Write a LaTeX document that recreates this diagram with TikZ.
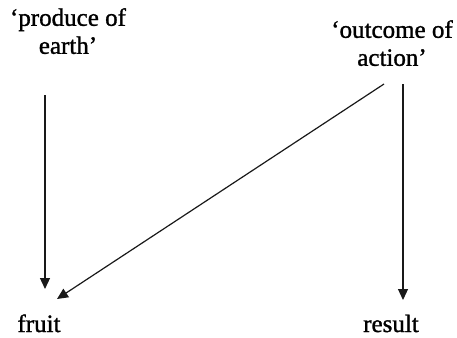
\documentclass[tikz,border=0pt]{standalone}
\usepackage{fontspec}
\setmainfont{Liberation Serif}[FakeBold=1.2]
\usetikzlibrary{arrows.meta}
\begin{document}
\begin{tikzpicture}[x=1pt,y=-1pt,
  lbl/.style={font=\fontsize{25}{28}\selectfont, align=center, inner sep=0pt},
  arr/.style={draw=black!90, line width=1.2pt, -{Triangle[width=10pt,length=11pt]}}]
\useasboundingbox (0,0) rectangle (457,337);
\node[lbl, anchor=north] (prod) at (68,8) {‘produce of\\earth’};
\node[lbl, anchor=north] (outc) at (392,20) {‘outcome of\\action’};
\node[lbl, anchor=base] (fruit) at (39,332) {fruit};
\node[lbl, anchor=base] (result) at (391,332) {result};
\coordinate (p1) at (45,95);
\coordinate (p1e) at (45,289);
\coordinate (o1) at (384,84);
\coordinate (o1e) at (57,299);
\coordinate (o2) at (403,84);
\coordinate (o2e) at (403,300);
\draw[arr] (p1) -- (p1e);
\draw[arr] (o1) -- (o1e);
\draw[arr] (o2) -- (o2e);
\end{tikzpicture}
\end{document}
